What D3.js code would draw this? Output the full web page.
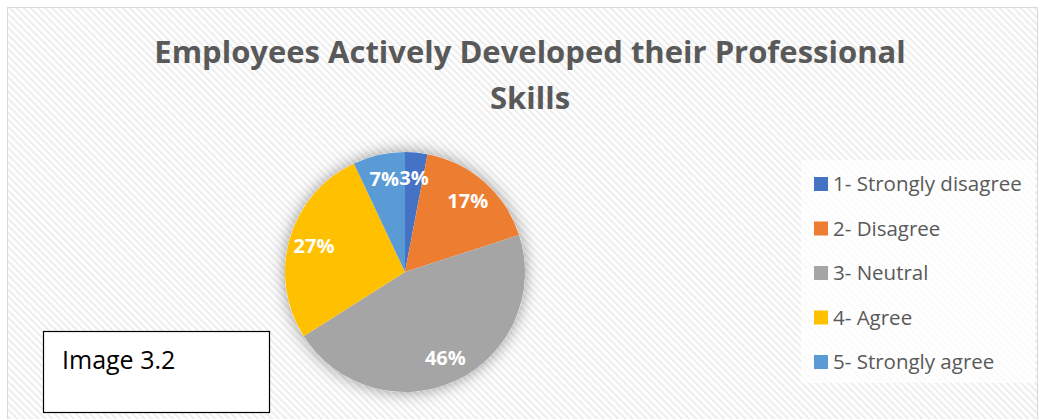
<!DOCTYPE html>
<html>
<head>
<meta charset="utf-8">
<script src="https://cdn.jsdelivr.net/npm/d3@7/dist/d3.min.js"></script>
<style>
	html, body { margin: 0; padding: 0; background: #fff; }
	#chart-area { width: 1042px; height: 419px; }
	text { font-family: "Open Sans", "Noto Sans", sans-serif; }
</style>
</head>
<body>
<div id="chart-area"></div>
<script>
// data
const categories = ['1- Strongly disagree', '2- Disagree', '3- Neutral', '4- Agree', '5- Strongly agree'];
const shares = [3, 17, 46, 27, 7];
const colours = ['#4472c4', '#ed7d31', '#a5a5a5', '#ffc000', '#5b9bd5'];
const titleLines = ['Employees Actively Developed their Professional', 'Skills'];
const captionText = 'Image 3.2';

window.addEventListener('DOMContentLoaded', () => {

	const width = 1042;
	const height = 419;

	const svg = d3.select('#chart-area')
		.append('svg')
		.attr('width', width)
		.attr('height', height);

	const defs = svg.append('defs');

	// diagonal hatch background
	const pattern = defs.append('pattern')
		.attr('id', 'hatch')
		.attr('patternUnits', 'userSpaceOnUse')
		.attr('width', 5)
		.attr('height', 5)
		.attr('patternTransform', 'rotate(-45)');
	pattern.append('rect').attr('width', 5).attr('height', 5).attr('fill', '#ffffff');
	pattern.append('rect').attr('width', 2.2).attr('height', 5).attr('fill', '#eeeeee');

	const shadow = defs.append('filter')
		.attr('id', 'pie-shadow')
		.attr('x', '-30%').attr('y', '-30%')
		.attr('width', '160%').attr('height', '160%');
	shadow.append('feDropShadow')
		.attr('dx', 0).attr('dy', 0)
		.attr('stdDeviation', 8)
		.attr('flood-color', '#000')
		.attr('flood-opacity', 0.4);

	svg.append('rect')
		.attr('x', 7.5).attr('y', 7.5)
		.attr('width', 1030).attr('height', 420)
		.attr('fill', 'url(#hatch)')
		.attr('stroke', '#d9d9d9')
		.attr('stroke-width', 1);

	// title
	svg.append('g')
		.selectAll('text')
		.data(titleLines)
		.enter()
			.append('text')
			.attr('x', 530)
			.attr('y', (d, i) => 63 + i * 46)
			.attr('text-anchor', 'middle')
			.attr('font-size', 31)
			.attr('font-weight', 'bold')
			.attr('fill', '#595959')
			.text((d) => d);

	// pie
	const radius = 120;
	const pieG = svg.append('g')
		.attr('transform', 'translate(405, 272)');

	const pie = d3.pie().sort(null).value((d) => d);
	const arcs = pie(shares);
	const arc = d3.arc().innerRadius(0).outerRadius(radius);
	const labelArc = d3.arc().innerRadius(radius * 0.79).outerRadius(radius * 0.79);
	const colour = d3.scaleOrdinal().domain(categories).range(colours);

	pieG.append('circle')
		.attr('r', radius)
		.attr('fill', '#ffffff')
		.attr('filter', 'url(#pie-shadow)');

	pieG.selectAll('path')
		.data(arcs)
		.enter()
			.append('path')
			.attr('d', arc)
			.attr('fill', (d, i) => colour(categories[i]));

	pieG.selectAll('text')
		.data(arcs)
		.enter()
			.append('text')
			.attr('transform', (d) => {
				const c = labelArc.centroid(d);
				return `translate(${c[0]}, ${c[1]})`;
			})
			.attr('text-anchor', 'middle')
			.attr('dy', '0.35em')
			.attr('font-size', 20)
			.attr('font-weight', 'bold')
			.attr('fill', '#ffffff')
			.text((d) => d.data + '%');

	// legend
	const legend = svg.append('g');
	legend.append('rect')
		.attr('x', 801).attr('y', 160)
		.attr('width', 234).attr('height', 223)
		.attr('fill', '#ffffff')
		.attr('opacity', 0.75);

	const legendY = d3.scalePoint()
		.domain(categories)
		.range([184, 362]);

	const items = legend.selectAll('g.item')
		.data(categories)
		.enter()
			.append('g')
			.attr('class', 'item')
			.attr('transform', (d) => `translate(814, ${legendY(d)})`);

	items.append('rect')
		.attr('x', 0).attr('y', -7)
		.attr('width', 14).attr('height', 14)
		.attr('fill', (d) => colour(d));

	items.append('text')
		.attr('x', 19)
		.attr('dy', '0.35em')
		.attr('font-size', 20.5)
		.attr('fill', '#595959')
		.text((d) => d);

	// caption box
	svg.append('rect')
		.attr('x', 43.5).attr('y', 331.5)
		.attr('width', 226).attr('height', 81)
		.attr('fill', '#ffffff')
		.attr('stroke', '#000000')
		.attr('stroke-width', 1.2);

	svg.append('text')
		.attr('x', 62)
		.attr('y', 369)
		.attr('font-size', 25)
		.attr('fill', '#000000')
		.text(captionText);
});
</script>
</body>
</html>
